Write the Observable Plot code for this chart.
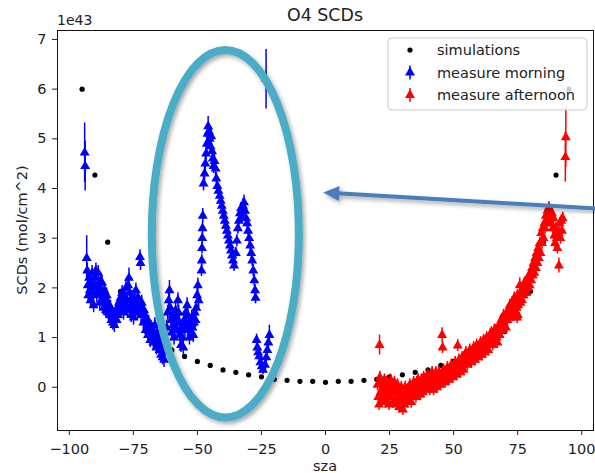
<!DOCTYPE html>
<html><head><meta charset="utf-8">
<script src="https://cdn.jsdelivr.net/npm/d3@7"></script>
<script src="https://cdn.jsdelivr.net/npm/@observablehq/plot@0.6"></script>
<style>body{margin:0;background:#fff}svg{font-family:"DejaVu Sans",sans-serif}</style>
</head><body><div id="chart"></div>
<script>
const chartTitle = "O4 SCDs";
const xLabel = "sza";
const yLabel = "SCDs (mol/cm^2)";
const yExponent = "1e43";
const xTicks = [-100, -75, -50, -25, 0, 25, 50, 75, 100];
const yTicks = [0, 1, 2, 3, 4, 5, 6, 7];
const legendLabels = ["simulations", "measure morning", "measure afternoon"];
const seriesColors = ["#000000", "#0000ff", "#ff0000"];

// [sza, SCD / 1e43]
const simulations = [[-95,6.0],[-90,4.27],[-85,2.92],[-80,1.93],[-75,1.42],[-70,1.12],[-65,0.92],[-60,0.75],[-55,0.62],[-50,0.52],[-45,0.44],[-40,0.35],[-35,0.30],[-30,0.25],[-25,0.21],[-20,0.16],[-15,0.14],[-10,0.12],[-5,0.12],[0,0.10],[5,0.12],[10,0.12],[15,0.14],[20,0.16],[25,0.21],[30,0.25],[35,0.30],[40,0.35],[45,0.44],[50,0.52],[55,0.62],[60,0.75],[65,0.92],[70,1.12],[75,1.42],[80,1.93],[85,2.92],[90,4.27],[95,6.0]];

// [sza, SCD / 1e43, error (optional)]
const morningDefaultErr = 0.15;
const morning = [[-94.0,4.72,0.6],[-93.8,4.45,0.5],
[-93.2,2.6,0.45],[-93.0,2.35],[-92.8,2.05],[-92.6,1.85],[-92.3,2.2],[-92.0,1.95],[-91.7,1.75],[-91.4,2.1],[-91.1,2.3],[-90.8,1.9],[-90.5,1.65],[-90.2,2.0],[-89.9,2.2],[-89.6,2.35],[-89.3,1.85],[-89.0,2.05],[-88.7,2.3],[-88.4,1.95],[-88.1,1.7],[-87.8,2.15],[-87.5,1.9],[-87.2,2.1],[-86.9,1.8],[-86.6,1.6],[-86.3,1.95],[-86.0,1.75],[-85.7,1.55],[-85.4,1.85],[-85.1,1.7],[-84.8,1.5],[-84.5,1.65],[-84.2,1.45],[-83.9,1.6],[-83.6,1.35],[-83.3,1.5],[-83.0,1.3],[-82.7,1.45],[-82.4,1.25],[-82.1,1.4],[-81.8,1.55],[-81.5,1.35],[-81.2,1.6],[-80.9,1.45],[-80.6,1.7],[-80.3,1.55],[-80.0,1.8],[-79.7,1.6],[-79.4,1.9],[-79.1,1.7],[-78.8,1.5],[-78.5,1.85],[-78.2,1.65],[-77.9,2.0],[-77.6,1.75],[-77.3,1.55],[-77.0,2.05],[-76.7,2.2,0.2],[-76.4,1.9],[-76.1,1.65],[-75.8,1.45],[-75.5,1.8],[-75.2,1.6],[-74.9,1.4],[-74.6,1.75],[-74.3,1.55],[-74.0,1.95],[-73.7,1.7],[-73.4,1.5],[-73.1,1.8],[-72.8,1.6],[-72.4,2.62],[-72.2,2.5],[-72.0,1.45],[-71.7,1.7],[-71.4,1.5],[-71.1,1.3],[-70.8,1.55],[-70.5,1.35],[-70.2,1.15],[-69.9,1.4],[-69.6,1.2],[-69.3,1.05],[-69.0,1.3],[-68.7,1.1],[-68.4,0.95],[-68.1,1.2],[-67.8,1.0],[-67.5,1.15],[-67.2,0.9],[-66.9,1.05],[-66.6,1.25],[-66.3,0.95],[-66.0,0.8],[-65.7,1.1],[-65.4,0.85],[-65.1,1.0],[-64.8,0.75],[-64.5,0.9],[-64.2,0.65],[-63.9,0.8],[-63.6,0.6],[-63.3,0.75],[-63.0,0.55],[-62.7,0.7],
[-62.0,1.2],[-61.6,1.5],[-61.2,1.75,0.2],[-60.9,1.95,0.2],[-60.6,1.6],[-60.3,1.35],[-60.0,1.1],[-59.7,1.45],[-59.4,1.25],[-59.1,1.0],[-58.8,1.3],[-58.5,1.55],[-58.2,1.4],[-57.9,1.15],[-57.6,1.75],[-57.3,1.5],[-57.0,1.3],[-56.7,1.05],[-56.4,0.85],[-56.1,1.2],[-55.8,1.0],[-55.5,0.8],[-55.2,1.35],[-54.9,1.15],[-54.6,1.5],[-54.3,1.3],[-54.0,1.65],[-53.7,1.45],[-53.4,1.2],[-53.1,1.0],[-52.8,1.3],[-52.5,1.1],[-52.2,1.4],[-51.9,1.2],[-51.6,1.05],[-51.3,1.3],[-51.0,1.5],[-50.7,1.35],[-50.4,1.6],[-50.1,1.85],[-49.8,2.05],[-49.5,1.75],
[-48.4,2.35,0.12],[-48.3,2.55,0.12],[-48.2,2.8,0.12],[-48.1,3.0,0.12],[-48.0,3.2,0.12],[-47.9,3.45,0.15],
[-47.6,4.1],[-47.2,4.3],[-46.9,4.5],[-46.6,4.7],[-46.3,4.9],[-46.0,5.1,0.2],[-45.8,5.25,0.2],[-45.5,5.15],[-45.2,5.0],[-44.9,4.85],[-44.6,5.05],[-44.3,4.75],[-44.0,4.6],[-43.7,4.45],[-43.3,4.55],[-42.9,4.4],
[-42.6,4.2,0.12],[-42.2,4.05,0.12],[-41.8,3.95,0.12],[-41.3,3.85,0.12],[-40.9,3.75,0.12],[-40.5,3.65,0.12],[-40.1,3.55,0.12],[-39.7,3.45,0.12],[-39.3,3.35,0.12],[-38.9,3.25,0.12],[-38.5,3.15,0.12],[-38.1,3.05,0.12],[-37.7,2.95,0.12],[-37.3,2.85,0.12],[-36.9,2.75,0.12],[-36.5,2.65,0.12],[-36.1,2.55,0.12],[-35.7,2.45,0.12],
[-35.0,2.7,0.12],[-34.6,2.95,0.12],[-34.2,3.2,0.12],[-33.8,3.35,0.12],[-33.4,3.5,0.12],[-33.0,3.6,0.12],[-32.6,3.45,0.12],[-32.2,3.65],[-31.8,3.72],[-31.4,3.55,0.12],[-31.0,3.4,0.12],[-30.6,3.3,0.12],[-30.2,3.15,0.12],[-29.8,3.0,0.12],[-29.4,2.85,0.12],[-29.0,2.7,0.12],[-28.6,2.55,0.12],[-28.2,2.35,0.12],[-27.8,2.15,0.12],[-27.5,1.95,0.12],[-27.3,1.8,0.12],
[-26.9,0.95,0.12],[-26.6,0.8,0.12],[-26.3,0.7,0.12],[-25.9,0.62,0.1],[-25.4,0.5,0.1],[-24.9,0.42,0.1],[-24.4,0.35,0.1],[-23.6,0.45,0.1],[-23.1,0.6,0.12],[-22.7,0.75,0.12],[-22.3,0.9,0.12],[-21.9,1.05,0.2],
[-23.2,6.2,0.6]];

const afternoonDefaultErr = 0.12;
const afternoon = [[20.3,0.05],[20.6,-0.2],[20.9,-0.35],[21.1,0.85,0.2],[21.2,0.2],[21.5,-0.1],[21.8,0.1],[22.1,-0.25],[22.4,0.0],[22.7,-0.15],[23.0,0.15],[23.3,-0.3],[23.6,-0.05],[23.9,0.1],[24.2,-0.2],[24.5,0.05],[24.8,-0.35],[25.1,-0.1],[25.4,0.15],[25.7,-0.2],[26.0,0.0],[26.3,-0.3],[26.6,-0.05],[26.9,0.1],[27.2,-0.25],[27.5,-0.1],[27.8,-0.35],[28.1,0.05],[28.4,-0.2],[28.7,-0.4],[29.0,-0.1],[29.3,-0.3],[29.6,0.0],[29.9,-0.2],[30.2,-0.45],[30.5,-0.15],[30.8,-0.35],[31.1,0.0],[31.4,-0.25],[31.7,-0.1],[32.0,-0.3],[32.3,-0.05],[32.6,-0.2],[32.9,0.05],[33.2,-0.15],[33.5,-0.3],[33.8,0.0],[34.1,-0.1],[34.4,0.1],[34.7,-0.15],[35.0,0.05],[35.3,-0.2],[35.6,0.1],[35.9,-0.05],[36.2,0.15],[36.5,-0.1],[36.8,0.05],[37.1,-0.15],[37.4,0.15],[37.7,0.0],[38.0,-0.1],[38.3,0.2],[38.6,0.05],[38.9,-0.05],[39.2,0.15],[39.5,0.0],[39.8,0.25],[40.1,0.05],[40.4,0.15],[40.7,-0.05],[41.0,0.2],[41.3,0.05],[41.6,0.3],[41.9,0.1],[42.2,-0.05],[42.5,0.2],[42.8,0.1],[43.1,0.3],[43.4,0.0],[43.7,0.2],[44.0,0.1],[44.3,0.3],[44.6,0.15],[44.9,0.05],[45.2,0.25],[45.5,1.05,0.15],[45.7,0.8],[45.8,0.15],[46.1,0.35],[46.4,0.2],[46.7,0.1],[47.0,0.3],[47.3,0.2],[47.6,0.4],[47.9,0.25],[48.2,0.15],[48.5,0.35],[48.8,0.25],[49.1,0.45],[49.4,0.3],[49.7,0.2],[50.0,0.4],[50.3,0.3],[50.6,0.5],[50.9,0.35],[51.2,0.25],[51.5,0.45],[51.6,0.84],[51.8,0.35],[52.1,0.55],[52.4,0.4],[52.7,0.3],[53.0,0.5],[53.3,0.6],[53.6,0.45],[53.9,0.35],[54.2,0.6],[54.5,0.5],[54.8,0.7],[55.1,0.55],[55.4,0.45],[55.7,0.65],[56.0,0.55],[56.3,0.75],[56.6,0.6],[56.9,0.5],[57.2,0.7],[57.5,0.6],[57.8,0.8],[58.1,0.65],[58.4,0.55],[58.7,0.75],[59.0,0.85],[59.3,0.7],[59.6,0.6],[59.9,0.8],[60.2,0.7],[60.5,0.9],[60.8,0.75],[61.1,0.65],[61.4,0.85],[61.7,0.95],[62.0,0.8],[62.3,0.7],[62.6,0.9],[62.9,1.0],[63.2,0.85],[63.5,0.75],[63.8,0.95],[64.1,1.05],[64.4,0.9],[64.7,1.1],[65.0,0.95],[65.3,0.85],[65.6,1.05],[65.9,1.15],[66.2,0.95],[66.5,1.15],[66.8,1.0],[67.1,0.9],[67.4,1.15],[67.7,1.25],[68.0,1.05],[68.3,1.2],[68.6,1.35],[68.9,1.15],[69.2,1.3],[69.5,1.45],[69.8,1.25],[70.1,1.4],[70.4,1.2],[70.7,1.5],[71.0,1.35],[71.3,1.55],[71.6,1.4],[71.9,1.65],[72.2,1.4],[72.5,1.55],[72.8,1.7],[73.1,1.45],[73.4,1.65],[73.7,1.8],[74.0,1.55],[74.3,1.75],[74.6,1.6],[74.8,1.4],[74.9,1.85],[75.1,1.45],[75.2,1.65],[75.5,1.8],[75.8,2.05,0.15],[76.1,1.7],[76.4,1.9],[76.7,1.75],[77.0,2.0],[77.3,1.85],[77.6,2.1],[77.9,1.9],[78.2,2.1],[78.5,1.9],[78.8,2.15],[79.1,2.0],[79.4,2.25],[79.7,2.05],[80.0,2.3],[80.3,2.15],[80.6,2.4],[80.9,2.25],[81.2,2.5],[81.5,2.3],[81.8,2.6],[82.1,2.4],[82.4,2.7],[82.7,2.5],[83.0,2.8],[83.3,2.6],[83.6,2.9],[83.9,2.7],[84.2,3.1],[84.5,2.9],[84.8,3.2],[85.1,3.0],[85.4,3.3],[85.7,3.2],[86.0,3.45],[86.3,3.3],[86.6,3.55],[86.9,3.4],[87.2,3.62],[87.5,3.4],[87.8,3.55],[88.1,3.3],[88.4,3.5],[88.7,3.2],[89.0,3.4],[89.3,3.05],[89.6,2.9],[89.9,3.2],[90.2,3.0],[90.5,2.8],[90.8,3.1],[91.1,2.45,0.15],[91.4,3.3],[91.7,3.0],[92.0,3.35],[92.3,3.15],[92.6,3.4],[93.6,4.63,0.5],[93.8,5.03,0.6]];

// annotation shapes, in data units
const ellipseCenter = [-38.9, 3.08];
const ellipseRadii = [28.7, 3.70];
const arrowFrom = [108, 3.58];
const arrowTo = [-0.7, 3.91];

const toRows = (arr, defErr) => arr.map(d => ({sza: d[0], scd: d[1], err: d[2] ?? defErr}));
const simRows = simulations.map(d => ({sza: d[0], scd: d[1]}));
const mRows = toRows(morning, morningDefaultErr);
const aRows = toRows(afternoon, afternoonDefaultErr);

const W = 595, H = 473;
const plot = Plot.plot({
  width: W, height: H,
  marginLeft: 57, marginRight: 2, marginTop: 30, marginBottom: 43,
  style: {fontFamily: "DejaVu Sans", fontSize: "14.5px", color: "#222", background: "white", overflow: "visible"},
  x: {domain: [-104.6, 104.6], ticks: xTicks, tickSize: 5, tickPadding: 8, label: null},
  y: {domain: [-0.87, 7.18], ticks: yTicks, tickSize: 5, tickPadding: 6, label: null},
  marks: [
    Plot.dot(simRows, {x: "sza", y: "scd", r: 2.6, fill: seriesColors[0], stroke: "none"}),
    Plot.ruleX(mRows, {x: "sza", y1: d => d.scd - d.err, y2: d => d.scd + d.err, stroke: seriesColors[1], strokeWidth: 1.5}),
    Plot.dot(mRows, {x: "sza", y: "scd", symbol: "triangle", r: 3.7, fill: seriesColors[1], stroke: "none"}),
    Plot.ruleX(aRows, {x: "sza", y1: d => d.scd - d.err, y2: d => d.scd + d.err, stroke: seriesColors[2], strokeWidth: 1.5}),
    Plot.dot(aRows, {x: "sza", y: "scd", symbol: "triangle", r: 3.7, fill: seriesColors[2], stroke: "none"}),
    Plot.frame({stroke: "#111", strokeWidth: 1})
  ]
});
document.getElementById("chart").appendChild(plot);

const svg = d3.select(plot);
const sx = plot.scale("x"), sy = plot.scale("y");
const X = v => sx.apply(v), Y = v => sy.apply(v);
const cx = (X(-104.6) + X(104.6)) / 2;

// texts
svg.append("text").attr("x", cx).attr("y", 20.5).attr("text-anchor", "middle")
  .attr("font-size", 17.4).attr("fill", "#222").text(chartTitle);
svg.append("text").attr("x", 57).attr("y", 25).attr("text-anchor", "start").attr("font-size", 14).attr("fill", "#222").text(yExponent);
svg.append("text").attr("transform", `translate(26.5,${(Y(-0.87)+Y(7.18))/2}) rotate(-90)`)
  .attr("text-anchor", "middle").attr("font-size", 14.5).attr("fill", "#222").text(yLabel);
svg.append("text").attr("x", cx).attr("y", 470.5).attr("text-anchor", "middle")
  .attr("font-size", 14.5).attr("fill", "#222").text(xLabel);

// legend
const lg = svg.append("g");
lg.append("rect").attr("x", 388).attr("y", 38).attr("width", 199).attr("height", 72).attr("rx", 4)
  .attr("fill", "white").attr("fill-opacity", 0.8).attr("stroke", "#cccccc");
const rowsY = [50, 72.5, 95];
const tri = d3.symbol(d3.symbolTriangle, Math.PI * 3.7 * 3.7)();
legendLabels.forEach((lab, i) => {
  const y = rowsY[i];
  if (i === 0) {
    lg.append("circle").attr("cx", 410).attr("cy", y).attr("r", 2.6).attr("fill", seriesColors[0]);
  } else {
    lg.append("line").attr("x1", 410).attr("x2", 410).attr("y1", y - 7).attr("y2", y + 7)
      .attr("stroke", seriesColors[i]).attr("stroke-width", 1.5);
    lg.append("path").attr("d", tri).attr("transform", `translate(410,${y})`).attr("fill", seriesColors[i]);
  }
  lg.append("text").attr("x", 437).attr("y", y + 5).attr("text-anchor", "start").attr("font-size", 14.5).attr("fill", "#222").text(lab);
});

// annotations: ellipse and arrow with soft shadow
const defs = svg.append("defs");
const f = defs.append("filter").attr("id", "shadow").attr("x", "-20%").attr("y", "-20%").attr("width", "140%").attr("height", "140%");
f.append("feDropShadow").attr("dx", 2).attr("dy", 2.5).attr("stdDeviation", 2).attr("flood-color", "#000").attr("flood-opacity", 0.35);

svg.append("ellipse")
  .attr("cx", X(ellipseCenter[0])).attr("cy", Y(ellipseCenter[1]))
  .attr("rx", X(ellipseCenter[0] + ellipseRadii[0]) - X(ellipseCenter[0]))
  .attr("ry", Y(ellipseCenter[1]) - Y(ellipseCenter[1] + ellipseRadii[1]))
  .attr("fill", "none").attr("stroke", "#4bacc6").attr("stroke-width", 8).attr("filter", "url(#shadow)");

const ax1 = X(arrowFrom[0]), ay1 = Y(arrowFrom[1]), ax2 = X(arrowTo[0]), ay2 = Y(arrowTo[1]);
const len = Math.hypot(ax2 - ax1, ay2 - ay1), ux = (ax2 - ax1) / len, uy = (ay2 - ay1) / len;
const headL = 16, headW = 7.5;
const bx = ax2 - ux * headL, by = ay2 - uy * headL;
const ag = svg.append("g").attr("filter", "url(#shadow)");
ag.append("line").attr("x1", ax1).attr("y1", ay1).attr("x2", bx + ux * 2).attr("y2", by + uy * 2)
  .attr("stroke", "#4a7ebb").attr("stroke-width", 4);
ag.append("path").attr("d", `M${ax2},${ay2}L${bx - uy * headW},${by + ux * headW}L${bx + uy * headW},${by - ux * headW}Z`)
  .attr("fill", "#4a7ebb");
</script>
</body></html>
